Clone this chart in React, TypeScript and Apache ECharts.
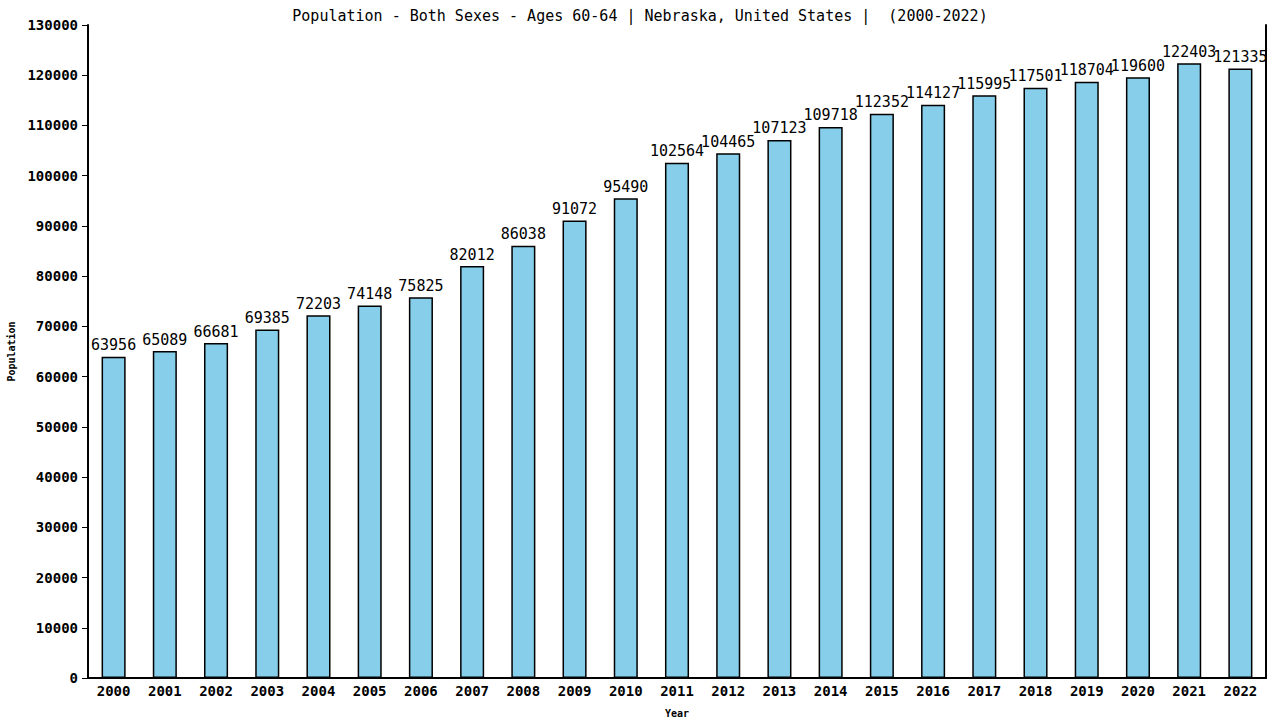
import React, { useEffect, useRef } from "react";
import * as echarts from "echarts";

const years = ["2000","2001","2002","2003","2004","2005","2006","2007","2008","2009","2010","2011","2012","2013","2014","2015","2016","2017","2018","2019","2020","2021","2022"];
const population = [63956,65089,66681,69385,72203,74148,75825,82012,86038,91072,95490,102564,104465,107123,109718,112352,114127,115995,117501,118704,119600,122403,121335];
const titleText = "Population - Both Sexes - Ages 60-64 | Nebraska, United States |  (2000-2022)";

const FONT = "'DejaVu Sans Mono', monospace";

export default function App() {
  const ref = useRef<HTMLDivElement>(null);
  useEffect(() => {
    if (!ref.current) return;
    const chart = echarts.init(ref.current, null, { renderer: "svg" });
    chart.setOption({
      animation: false,
      backgroundColor: "#ffffff",
      title: {
        text: titleText,
        left: "center",
        top: 3,
        textStyle: { fontFamily: FONT, fontSize: 15, fontWeight: "normal", color: "#000" },
      },
      grid: { left: 88, right: 14, top: 25, bottom: 42, containLabel: false, outerBoundsMode: "none" },
      xAxis: {
        type: "category",
        data: years,
        name: "Year",
        nameLocation: "middle",
        nameGap: 30,
        nameTextStyle: { fontFamily: FONT, fontSize: 10, fontWeight: "bold", color: "#000" },
        axisLine: { lineStyle: { color: "#000", width: 2 } },
        axisTick: { show: false },
        axisLabel: { fontFamily: FONT, fontSize: 14, fontWeight: "bold", color: "#000", margin: 6, interval: 0 },
      },
      yAxis: [
        {
          type: "value",
          min: 0,
          max: 130000,
          interval: 10000,
          name: "Population",
          nameLocation: "middle",
          nameGap: 72,
          nameTextStyle: { fontFamily: FONT, fontSize: 10, fontWeight: "bold", color: "#000" },
          axisLine: { show: true, lineStyle: { color: "#000", width: 2 } },
          axisTick: { show: true, length: 6, lineStyle: { color: "#000" } },
          axisLabel: { fontFamily: FONT, fontSize: 14, fontWeight: "bold", color: "#000", margin: 10, formatter: (v: number) => String(v) },
          splitLine: { show: false },
        },
        {
          type: "value",
          min: 0,
          max: 130000,
          interval: 10000,
          position: "right",
          axisLine: { show: true, lineStyle: { color: "#000", width: 2 } },
          axisTick: { show: false },
          axisLabel: { show: false },
          splitLine: { show: false },
        },
      ],
      series: [
        {
          type: "bar",
          data: population,
          barWidth: "47%",
          itemStyle: { color: "#87CEEB", borderColor: "#000", borderWidth: 1.5 },
          label: {
            show: true,
            position: "top",
            distance: 4,
            fontFamily: FONT,
            fontSize: 15,
            color: "#000",
          },
        },
      ],
    });
    return () => chart.dispose();
  }, []);
  return <div ref={ref} style={{ position: "fixed", left: 0, top: 0, width: 1280, height: 720 }} />;
}
